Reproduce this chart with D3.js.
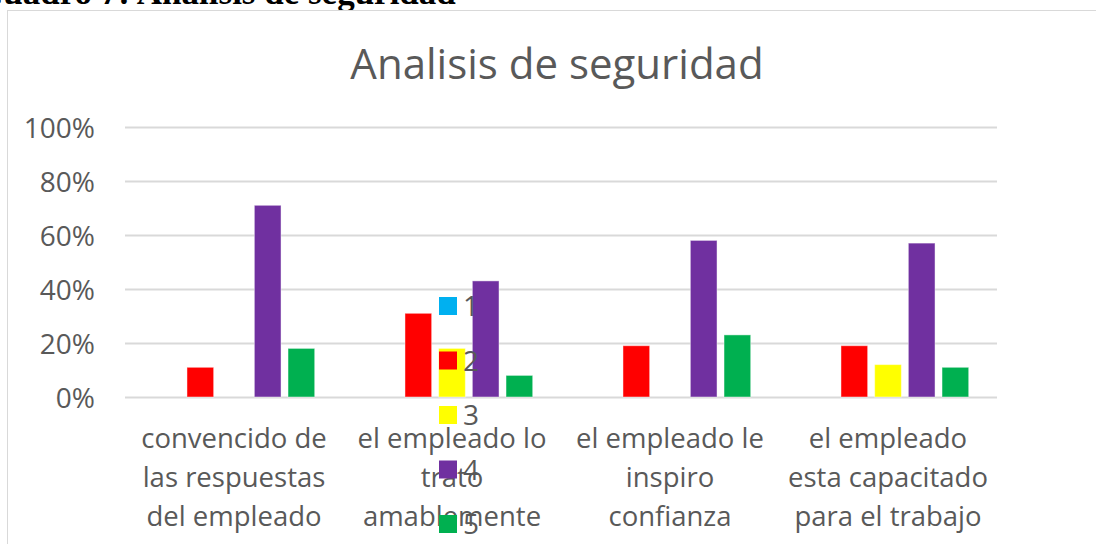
<!DOCTYPE html>
<html><head><meta charset="utf-8">
<script src="https://cdn.jsdelivr.net/npm/d3@7"></script>
<style>html,body{margin:0;padding:0;background:#fff;overflow:hidden}</style>
</head><body>
<svg id="c" width="1096" height="544"></svg>
<script>
const categories = [
  ["convencido de","las respuestas","del empleado"],
  ["el empleado lo","trato","amablemente"],
  ["el empleado le","inspiro","confianza"],
  ["el empleado","esta capacitado","para el trabajo"]
];
const seriesNames = ["1","2","3","4","5"];
const seriesColors = ["#00B0F0","#FF0000","#FFFF00","#7030A0","#00B050"];
const s1 = [0,0,0,0];
const s2 = [0.11,0.31,0.19,0.19];
const s3 = [0,0.18,0,0.12];
const s4 = [0.71,0.43,0.58,0.57];
const s5 = [0.18,0.08,0.23,0.11];
const seriesValues = [s1,s2,s3,s4,s5];
const yTicks = [0,0.2,0.4,0.6,0.8,1.0];

(function(){
const svg = d3.select("#c");
const font = "'Open Sans', sans-serif";
const txt = "#595959";

// cropped caption above chart
svg.append("text").attr("x",-22).attr("y",4)
  .attr("font-family","'Liberation Serif', serif").attr("font-weight","bold")
  .attr("font-size",35).attr("fill","#000")
  .text("Cuadro 7: Análisis de seguridad");

// chart border
svg.append("rect").attr("x",7.5).attr("y",10.5).attr("width",1200).attr("height",700)
  .attr("fill","#fff").attr("stroke","#d9d9d9").attr("stroke-width",1);

const pL = 125, pR = 997, pT = 127, pB = 397;
const x0 = d3.scaleBand().domain(d3.range(categories.length)).range([pL,pR]).padding(0);
const x1 = d3.scaleBand().domain(d3.range(seriesNames.length))
  .range([28.3, x0.bandwidth()-28.3]).paddingInner(0.208).paddingOuter(0);
const y = d3.scaleLinear().domain([0,1]).range([pB,pT]);

// gridlines
const yAxis = d3.axisLeft(y).tickValues(yTicks).tickFormat(d3.format(".0%"))
  .tickSize(-(pR-pL)).tickPadding(30);
const ga = svg.append("g").attr("transform",`translate(${pL},0)`).call(yAxis);
ga.select(".domain").remove();
ga.selectAll(".tick line").attr("stroke","#d9d9d9").attr("stroke-width",2);
ga.selectAll(".tick text").attr("font-family",font).attr("font-size",28).attr("fill",txt)
  .attr("dy","0.36em");

// bars
const groups = svg.append("g").selectAll("g").data(categories).join("g")
  .attr("transform",(d,i)=>`translate(${x0(i)},0)`);
groups.selectAll("rect").data((d,i)=>seriesValues.map((s,j)=>({j,v:s[i]})))
  .join("rect")
  .attr("x",d=>x1(d.j)).attr("width",x1.bandwidth())
  .attr("y",d=>y(d.v)).attr("height",d=>y(0)-y(d.v))
  .attr("fill",d=>seriesColors[d.j])
  .attr("stroke",d=>d.v>0?"rgba(255,255,255,0.45)":"none").attr("stroke-width",1);

// category labels
const cl = svg.append("g");
categories.forEach((lines,i)=>{
  const t = cl.append("text").attr("text-anchor","middle").attr("font-family",font)
    .attr("font-size",27.5).attr("fill",txt);
  lines.forEach((ln,k)=>{
    t.append("tspan").attr("x",x0(i)+x0.bandwidth()/2).attr("y",448+k*39).text(ln);
  });
});

// title
svg.append("text").attr("x",557).attr("y",79).attr("text-anchor","middle")
  .attr("font-family",font).attr("font-size",42).attr("fill",txt)
  .text("Analisis de seguridad");

// legend
const lg = svg.append("g");
seriesNames.forEach((n,i)=>{
  const cy = 306 + i*54.5;
  lg.append("rect").attr("x",439).attr("y",cy-9).attr("width",18).attr("height",18)
    .attr("fill",seriesColors[i]);
  lg.append("text").attr("x",463).attr("y",cy).attr("dy","0.36em")
    .attr("font-family",font).attr("font-size",28).attr("fill",txt).text(n);
});
})();
</script>
</body></html>
